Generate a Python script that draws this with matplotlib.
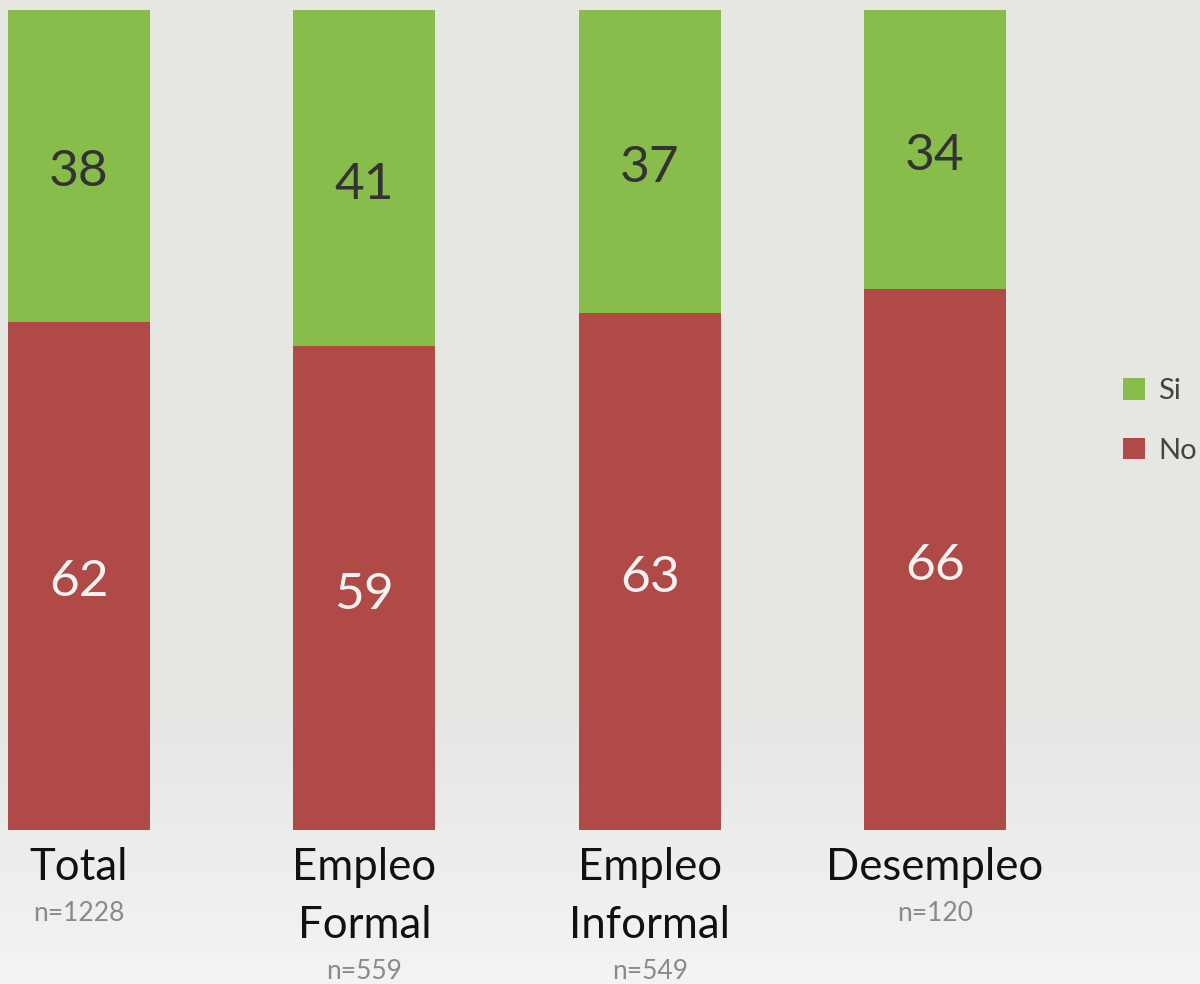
import matplotlib
matplotlib.use("Agg")
import matplotlib.pyplot as plt
import numpy as np

categories = ["Total", "Empleo\nFormal", "Empleo\nInformal", "Desempleo"]
n_labels = ["n=1228", "n=559", "n=549", "n=120"]
no_vals = [62, 59, 63, 66]
si_vals = [38, 41, 37, 34]

GREEN = "#88BC4B"
RED = "#AF4A47"
FONT = ["Lato", "DejaVu Sans"]

W, H = 1200, 984
fig = plt.figure(figsize=(W / 100, H / 100), dpi=100)

# background gradient
bg = fig.add_axes([0, 0, 1, 1], zorder=0)
t = np.linspace(0, 1, 200)
top = np.array([0.902, 0.902, 0.894])
bot = np.array([0.955, 0.955, 0.952])
w = np.clip((t - 0.72) / 0.28, 0, 1)[:, None]
img = top[None, :] * (1 - w) + bot[None, :] * w
bg.imshow(img[:, None, :], aspect="auto", extent=[0, 1, 0, 1])
bg.axis("off")

left_px, right_px = 0, 1100
bottom_px, top_px = 830, 10
ax = fig.add_axes([left_px / W, (H - bottom_px) / H, (right_px - left_px) / W, (bottom_px - top_px) / H], zorder=1)
ax.patch.set_alpha(0)
spacing = 285.33
x = np.arange(len(categories))
ax.set_xlim(-79 / spacing, (right_px - 79) / spacing)
ax.set_ylim(0, 100)
bw = 142 / spacing

b_no = ax.bar(x, no_vals, width=bw, color=RED, label="No")
b_si = ax.bar(x, si_vals, bottom=no_vals, width=bw, color=GREEN, label="Si")

for i in range(len(categories)):
    ax.text(x[i], no_vals[i] / 2 - 0.8, str(no_vals[i]), ha="center", va="center",
            fontsize=37, color="#f2f2f2", family=FONT)
    ax.text(x[i], no_vals[i] + si_vals[i] / 2 - 0.8, str(si_vals[i]), ha="center", va="center",
            fontsize=37, color="#333333", family=FONT)

ax.set_xticks([])
ax.set_yticks([])
for s in ax.spines.values():
    s.set_visible(False)

# category labels
for i, (c, nl) in enumerate(zip(categories, n_labels)):
    lines = c.split("\n")
    y0 = -4.6
    for j, ln in enumerate(lines):
        ax.text(x[i], y0 - j * 7.0, ln, ha="center", va="center", fontsize=31.5,
                color="#111111", family=FONT, clip_on=False)
    ny = y0 - (len(lines) - 1) * 7.0 - 5.6
    ax.text(x[i], ny, nl, ha="center", va="center", fontsize=19,
            color="#8a8a8a", family=FONT, clip_on=False)

handles = [b_si, b_no]
leg = fig.legend(handles, ["Si", "No"], loc="center left",
                 bbox_to_anchor=(1097 / W, 1 - 421 / H), frameon=False,
                 prop={"family": FONT, "size": 21}, labelcolor="#444444",
                 handlelength=0.75, handleheight=0.75, handletextpad=0.45,
                 labelspacing=1.15)

fig.savefig("out.png", dpi=100)
